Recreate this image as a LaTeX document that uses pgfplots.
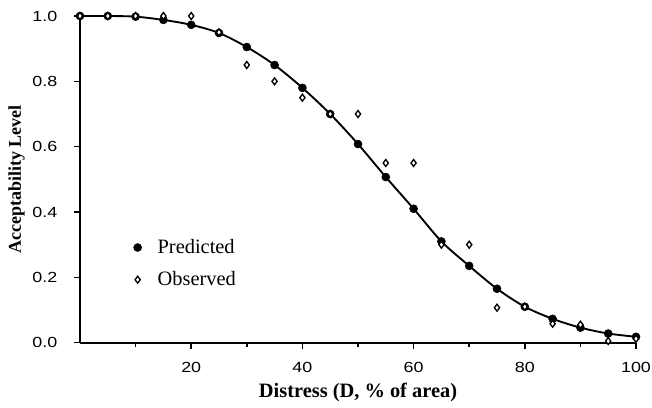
\documentclass[border=0pt]{standalone}
\usepackage{fontspec}
\setmainfont{Liberation Serif}
\newfontfamily\tickfont[FakeStretch=1.22]{Liberation Sans}
\usepackage{pgfplots}
\pgfplotsset{compat=1.18}

\begin{document}
\begin{tikzpicture}
% page margins as in the scan (axis box runs from (0,0) to (417pt,245pt))
\useasboundingbox (-60pt,-48.75pt) rectangle (429pt,257pt);
\begin{axis}[
  scale only axis,
  at={(0,0)},anchor=south west,
  width=417pt,height=245pt,
  xmin=0,xmax=100,ymin=0,ymax=1,
  axis x line*=bottom,axis y line*=left,
  axis line style={line width=1.4pt},
  xtick={20,40,60,80,100},
  minor xtick={10,30,50,70,90},
  ytick={0,0.2,0.4,0.6,0.8,1.0},
  tick align=outside,
  major tick length=4.5pt,minor tick length=3pt,
  tick style={line width=1.1pt,black},
  yticklabel style={xshift=-9pt,/pgf/number format/.cd,fixed,fixed zerofill,precision=1},
  /pgf/number format/assume math mode=true,
  tick label style={font=\fontsize{11}{13}\tickfont},
  xticklabel style={yshift=-6.5pt},
  xlabel={\bfseries Distress (D, \% of area)},
  xlabel style={font=\fontsize{15.3}{17}\selectfont,yshift=-1pt},
  ylabel={\bfseries Acceptability Level},
  ylabel style={font=\fontsize{13.5}{15}\selectfont,
    at={(axis description cs:-0.114,0.5)},anchor=center},
  legend style={at={(axis cs:9.6,0.325)},anchor=north west,draw=none,fill=none,
    inner sep=0pt,font=\fontsize{15.3}{17}\selectfont,row sep=8pt,column sep=10pt},
  legend cell align=left,
  clip=false
]
\addplot[smooth,line width=1.4pt,forget plot] coordinates {
  (0,1.0) (5,1.0) (10,0.998) (15,0.988) (20,0.973) (25,0.948) (30,0.905)
  (35,0.85) (40,0.78) (45,0.70) (50,0.608) (55,0.507) (60,0.41) (65,0.31)
  (70,0.235) (75,0.165) (80,0.11) (85,0.073) (90,0.046) (95,0.028) (100,0.018)};
\addplot[only marks,mark=*,mark size=3pt,black] coordinates {
  (0,1.0) (5,1.0) (10,0.998) (15,0.988) (20,0.973) (25,0.948) (30,0.905)
  (35,0.85) (40,0.78) (45,0.70) (50,0.608) (55,0.507) (60,0.41) (65,0.31)
  (70,0.235) (75,0.165) (80,0.11) (85,0.073) (90,0.046) (95,0.028) (100,0.018)};
\addlegendentry{Predicted}
\addplot[only marks,mark=diamond*,mark size=2.6pt,black,mark options={fill=white,line width=1pt}] coordinates {
  (0,1.0) (5,1.0) (10,1.0) (15,1.0) (20,1.0) (25,0.95) (30,0.85) (35,0.80)
  (40,0.75) (45,0.70) (50,0.70) (55,0.55) (60,0.55) (65,0.30) (70,0.30)
  (75,0.107) (80,0.11) (85,0.058) (90,0.055) (95,0.005) (100,0.012)};
\addlegendentry{Observed}
\end{axis}
\end{tikzpicture}
\end{document}
